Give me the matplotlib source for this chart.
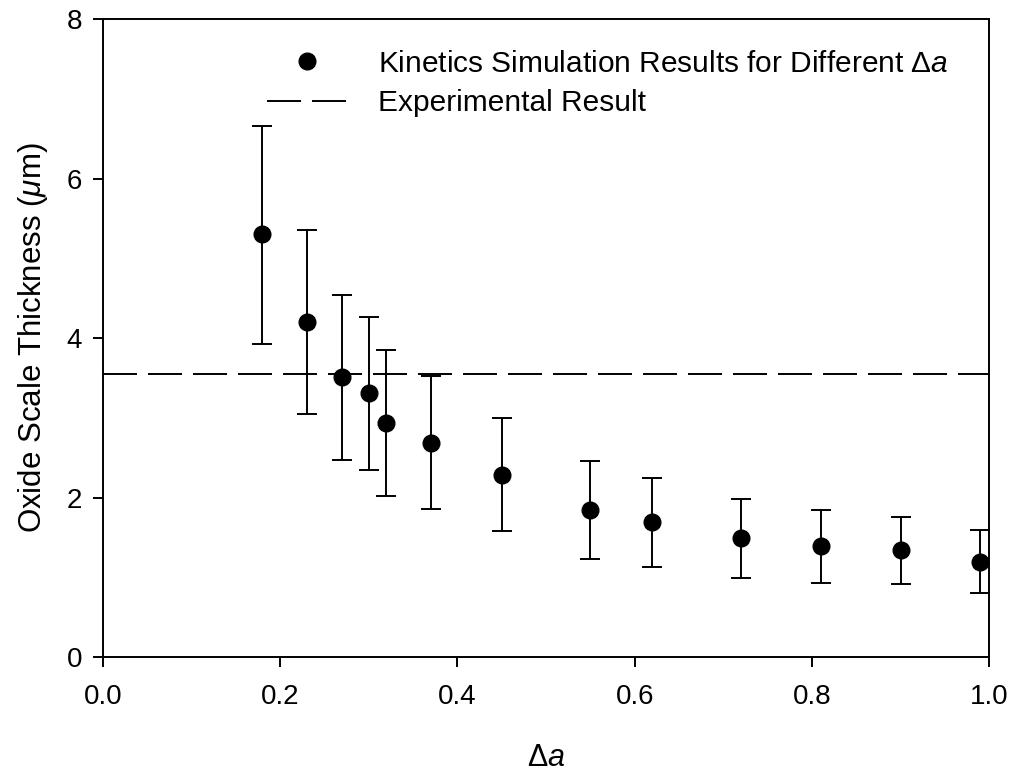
import matplotlib.pyplot as plt
from matplotlib.lines import Line2D

plt.rcParams['font.family'] = ['Liberation Sans', 'DejaVu Sans']
plt.rcParams['mathtext.fontset'] = 'custom'
plt.rcParams['mathtext.rm'] = 'Liberation Sans'
plt.rcParams['mathtext.it'] = 'Liberation Sans:italic'

# kinetics simulation: mean thickness with lower/upper bounds
delta_a = [0.18, 0.23, 0.27, 0.30, 0.32, 0.37, 0.45, 0.55, 0.62, 0.72, 0.81, 0.90, 0.99]
thickness = [5.30, 4.20, 3.51, 3.31, 2.94, 2.68, 2.29, 1.85, 1.70, 1.50, 1.40, 1.35, 1.20]
upper = [6.66, 5.36, 4.54, 4.27, 3.85, 3.52, 3.00, 2.46, 2.25, 1.99, 1.85, 1.76, 1.60]
lower = [3.93, 3.05, 2.47, 2.35, 2.02, 1.86, 1.58, 1.23, 1.13, 0.99, 0.93, 0.92, 0.81]
experimental = 3.55

err_lo = [t - l for t, l in zip(thickness, lower)]
err_hi = [u - t for t, u in zip(thickness, upper)]

LW = 1.4
DASH = (24.5 / LW, 7.9 / LW)

fig = plt.figure(figsize=(10.13, 7.78), dpi=100)
ax = fig.add_axes([0.1014, 0.1551, 0.8752, 0.8205])

ax.errorbar(delta_a, thickness, yerr=[err_lo, err_hi], fmt='none',
            ecolor='black', elinewidth=LW, capsize=7, capthick=LW, zorder=2)
ax.plot(delta_a, thickness, 'o', color='black', markersize=12, zorder=3)
ax.axhline(experimental, color='black', linewidth=LW, dashes=DASH, zorder=1)

ax.set_xlim(0, 1.0)
ax.set_ylim(0, 8)
ax.set_xticks([0.0, 0.2, 0.4, 0.6, 0.8, 1.0])
ax.set_xticklabels(['0.0', '0.2', '0.4', '0.6', '0.8', '1.0'])
ax.set_yticks([0, 2, 4, 6, 8])
ax.tick_params(direction='out', length=7, width=LW, labelsize=20, pad=8)
ax.tick_params(axis='x', pad=12)
for s in ax.spines.values():
    s.set_linewidth(LW)

ax.set_xlabel('Δ$a$', fontsize=22, labelpad=24)
ax.set_ylabel(r'Oxide Scale Thickness ($\mu$m)', fontsize=22.5, labelpad=12)

handles = [
    Line2D([], [], marker='o', color='black', linestyle='none', markersize=12),
    Line2D([], [], color='black', linewidth=LW, dashes=DASH),
]
labels = ['Kinetics Simulation Results for Different Δ$a$', 'Experimental Result']
ax.legend(handles, labels, loc='upper left', bbox_to_anchor=(0.2636, 0.936),
          bbox_transform=fig.transFigure, frameon=False, fontsize=21.5,
          handlelength=2.65, handletextpad=1.05, labelspacing=0.38,
          borderaxespad=0, borderpad=0)

fig.savefig('out.png', dpi=100)
